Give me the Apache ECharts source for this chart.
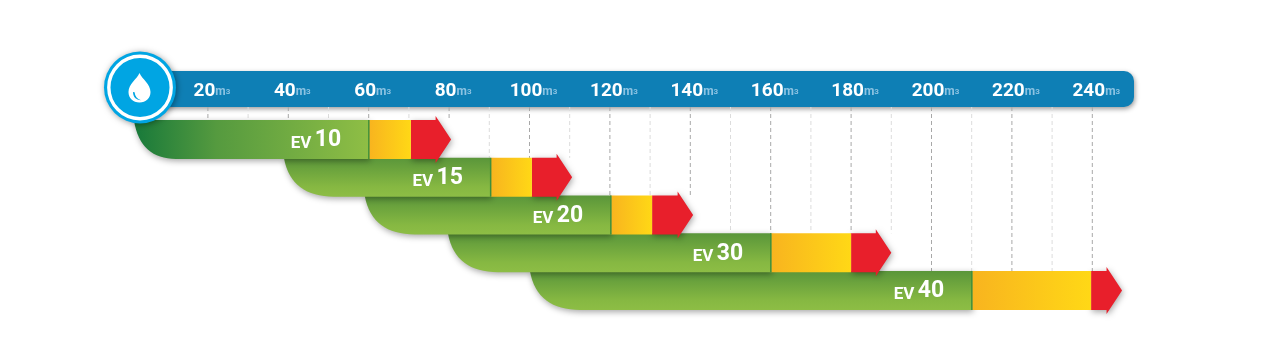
<!DOCTYPE html>
<html>
<head>
<meta charset="utf-8">
<style>html,body{margin:0;padding:0;background:#fff}#c{width:1264px;height:361px}</style>
<script src="https://cdn.jsdelivr.net/npm/echarts@6/dist/echarts.min.js"></script>
</head>
<body>
<div id="c"></div>
<script>
const rowNames = ['10', '15', '20', '30', '40'];
const rowIndex = [0, 1, 2, 3, 4];
const startValues = [1.6, 38.9, 59, 79.7, 100.1];
const greenEnds = [60.1, 90.4, 120.3, 160.1, 210.1];
const yellowEnds = [70.5, 100.6, 130.5, 180, 239.7];
const tipValues = [80.5, 110.6, 140.7, 190, 247.4];
const gridTicks = [20,30,40,50,60,70,80,90,100,110,120,130,140,150,160,170,180,190,200,210,220,230,240];
const unitLabel = 'm';
const unitPower = '3';

const chart = echarts.init(document.getElementById('c'), null, {renderer: 'canvas'});
const G = echarts.graphic;
const HALF = 19.4, HEAD = 15.5, HEAD_HALF = 23.5;

function renderBar(params, api) {
  const i = params.dataIndex;
  const row = api.value(0);
  const cy = api.coord([0, row])[1];
  const top = cy - HALF, bot = cy + HALF;
  const xs = api.coord([api.value(1), row])[0];
  const xg = api.coord([api.value(2), row])[0];
  const xy = api.coord([api.value(3), row])[0];
  const xt = api.coord([api.value(4), row])[0];
  const w = i === 0 ? 42 : 50;
  const h = bot - top;
  const z = 20 - i * 2;
  const green = i === 0
    ? new G.LinearGradient(0, 0, 1, 0, [{offset: 0, color: '#17793a'}, {offset: 0.35, color: '#559a3f'}, {offset: 1, color: '#8fbe45'}])
    : new G.LinearGradient(0, 0, 0, 1, [{offset: 0, color: '#5a963a'}, {offset: 0.75, color: '#86b842'}, {offset: 1, color: '#8dbd45'}]);
  const shadow = {shadowBlur: 6, shadowColor: 'rgba(0,0,0,0.35)', shadowOffsetX: 1, shadowOffsetY: 2};
  const xb = xt - HEAD;
  const redPath = `M${xy} ${top}L${xb} ${top}L${xb} ${cy - HEAD_HALF}L${xt} ${cy}L${xb} ${cy + HEAD_HALF}L${xb} ${bot}L${xy} ${bot}Z`;
  const greenPath = `M${xs} ${top}C${xs + 0.1 * w} ${top + 0.7 * h} ${xs + 0.45 * w} ${bot} ${xs + w} ${bot}L${xg} ${bot}L${xg} ${top}Z`;
  return {
    type: 'group',
    children: [
      {type: 'path', z2: z, shape: {pathData: redPath}, style: Object.assign({fill: '#e81f2b'}, shadow)},
      {type: 'path', z2: z, shape: {pathData: greenPath}, style: Object.assign({fill: green}, shadow)},
      {type: 'rect', z2: z + 1, shape: {x: xg, y: top, width: xy - xg, height: h},
        style: {fill: new G.LinearGradient(0, 0, 1, 0, [{offset: 0, color: '#f8b41f'}, {offset: 1, color: '#ffd816'}])}},
      {type: 'rect', z2: z + 1, shape: {x: xg - 1, y: top, width: 1.5, height: h}, style: {fill: '#3f8f3c'}},
      {type: 'text', z2: z + 1, style: {
        x: xg - 28, y: cy + 1, align: 'right', verticalAlign: 'middle',
        text: `{a|EV} {b|${rowNames[i]}}`,
        rich: {
          a: {fontFamily: 'Roboto', fontWeight: 700, fontSize: 17, fill: '#fff', verticalAlign: 'bottom', padding: [3, 0, 0, 0]},
          b: {fontFamily: 'Roboto', fontWeight: 700, fontSize: 23, fill: '#fff'}
        }
      }}
    ]
  };
}

function renderLine(params, api) {
  const v = api.value(0);
  const x = api.coord([v, 0])[0];
  const y0 = params.coordSys.y;
  let row = -1;
  for (let k = 0; k < rowIndex.length; k++) {
    if (v >= startValues[k] && v <= tipValues[k]) { row = k; break; }
  }
  const y1 = api.coord([v, rowIndex[row]])[1] - HALF;
  const major = v % 20 === 0;
  return {
    type: 'line', shape: {x1: x, y1: y0, x2: x, y2: y1},
    style: {stroke: major ? '#a8a8a8' : '#dcdcdc', lineWidth: 1, lineDash: [4, 3]}
  };
}

function renderDrop() {
  return {
    type: 'group',
    children: [
      {type: 'path', z2: 1, shape: {pathData: 'M139.5 73C137 79 128.5 84 128.5 92C128.5 98 133 102.5 139.5 102.5C146 102.5 150.5 98 150.5 92C150.5 84 142 79 139.5 73Z'},
        style: {fill: '#fff'}},
      {type: 'path', z2: 2, shape: {pathData: 'M133 92C133 97 136 100 141 100.2C137 99 135 96.5 134.6 92.3Z'},
        style: {fill: '#00a5e3'}}
    ]
  };
}

chart.setOption({
  animation: false,
  backgroundColor: '#fff',
  grid: {left: 127.5, right: 131.5, top: 107, bottom: 51.6, containLabel: false},
  xAxis: {
    type: 'value', position: 'top', min: 0, max: 250, interval: 20,
    axisLine: {show: false}, axisTick: {show: false}, splitLine: {show: false},
    axisLabel: {
      show: true, margin: 4.5, showMinLabel: false, showMaxLabel: false,
      padding: [0, 0, 0, 8],
      formatter: v => `{n|${v}}{u|${unitLabel}}{s|${unitPower}}`,
      rich: {
        n: {fontFamily: 'Roboto', fontWeight: 700, fontSize: 19, color: '#fff', lineHeight: 22},
        u: {fontFamily: 'Roboto', fontWeight: 700, fontSize: 12, color: '#8cc3e2', verticalAlign: 'middle', lineHeight: 16},
        s: {fontFamily: 'Roboto', fontWeight: 700, fontSize: 8, color: '#8cc3e2', verticalAlign: 'middle', lineHeight: 20}
      }
    }
  },
  yAxis: {type: 'value', show: false, inverse: true, min: -0.861, max: 4.5, splitLine: {show: false}},
  series: [
    {type: 'custom', z: 1, silent: true, clip: false, renderItem: renderLine,
      data: gridTicks.map(v => [v]), encode: {x: 0}},
    {type: 'custom', z: 2, silent: true, clip: false, renderItem: renderBar,
      data: rowIndex.map((r, i) => [r, startValues[i], greenEnds[i], yellowEnds[i], tipValues[i]]),
      encode: {x: [1, 2, 3, 4], y: 0}},
    {type: 'custom', z: 200, silent: true, clip: false, renderItem: renderDrop, data: [[0]]}
  ],
  graphic: [
    {type: 'rect', z: -1, silent: true, shape: {x: 135, y: 71, width: 999, height: 36, r: [0, 10, 10, 0]},
      style: {fill: '#0e7fb5', shadowBlur: 5, shadowColor: 'rgba(0,0,0,0.4)', shadowOffsetX: 1, shadowOffsetY: 2}},
    {type: 'circle', z: 100, silent: true, shape: {cx: 140, cy: 87.5, r: 36},
      style: {fill: '#00a5e3', shadowBlur: 6, shadowColor: 'rgba(0,0,0,0.4)', shadowOffsetX: 1, shadowOffsetY: 1}},
    {type: 'circle', z: 101, silent: true, shape: {cx: 140, cy: 87.5, r: 31.2},
      style: {fill: '#00a5e3', stroke: '#fff', lineWidth: 3.4}}
  ]
});
</script>
</body>
</html>
